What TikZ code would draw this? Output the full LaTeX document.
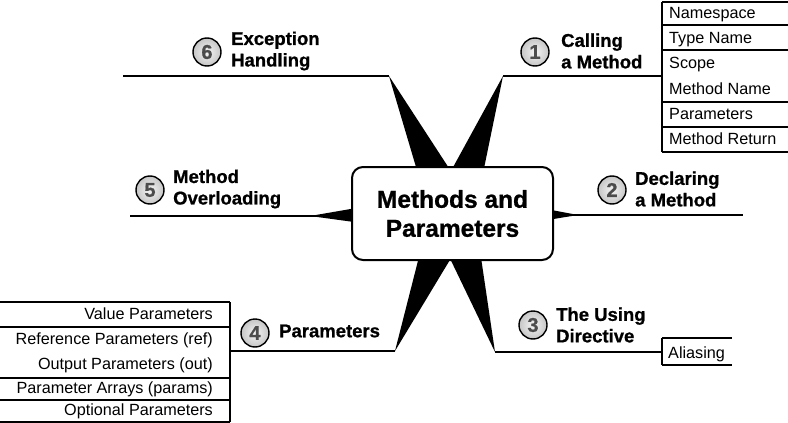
\documentclass[tikz,border=0pt]{standalone}
\usepackage{fontspec}
\setmainfont{Liberation Sans}
\newfontfamily\heavyfont{Liberation Sans Bold}[FakeBold=0.9]
\usetikzlibrary{calc}
\begin{document}
\begin{tikzpicture}[x=1pt,y=-1pt,
  branch/.style={line width=1.9pt},
  tbl/.style={line width=1.7pt},
  num/.style={circle, draw=black, line width=1.4pt, minimum size=28pt, inner sep=0pt,
    inner color=gray!8, outer color=gray!45, text=black!70,
    font=\fontsize{20}{20}\heavyfont},
  lbl/.style={anchor=west, align=left, inner sep=0pt,
    font=\fontsize{18.5}{21.5}\heavyfont},
  lcell/.style={anchor=base west, inner sep=0pt, font=\fontsize{16.2}{18}\selectfont},
  rcell/.style={anchor=base east, inner sep=0pt, font=\fontsize{16.2}{18}\selectfont},
  titlebox/.style={draw=black, line width=2pt, rounded corners=11pt, fill=white,
    minimum width=201pt, minimum height=93pt, align=center, inner sep=0pt,
    font=\fontsize{24.5}{29}\heavyfont}
]
\useasboundingbox (0,0) rectangle (788,423);
% centre and spike tips
\coordinate (c) at (452.5,213.5);
\coordinate (t1) at (503,76);
\coordinate (t2) at (578,215);
\coordinate (t3) at (495,352);
\coordinate (t4) at (395,351);
\coordinate (t5) at (310,216);
\coordinate (t6) at (389,76);
% branch far ends
\coordinate (e1) at (662,76);
\coordinate (e2) at (743,215);
\coordinate (e3) at (662,352);
\coordinate (e4) at (230,351);
\coordinate (e5) at (130,216);
\coordinate (e6) at (123,76);
% spikes
\foreach \t in {t1,t2,t3,t4,t5,t6}
  \fill[black] ($(c)!22pt!90:(\t)$) -- (\t) -- ($(c)!22pt!-90:(\t)$) -- cycle;
% centre box
\node[titlebox] (title) at (c) {Methods and\\Parameters};
% branch lines
\draw[branch] (t1) -- (e1);
\draw[branch] (t6) -- (e6);
\draw[branch] (t3) -- (e3);
\draw[branch] (t4) -- (e4);
\draw[branch] (t2 -| title.east) -- (e2);
\draw[branch] (t5 -| title.west) -- (e5);
% numbers and labels
\node[num] (n1) at (535,52) {1};
\node[lbl] (l1) at (561,51) {Calling\\a Method};
\node[num] (n2) at (612,190) {2};
\node[lbl] (l2) at (635,189) {Declaring\\a Method};
\node[num] (n3) at (533,325) {3};
\node[lbl] (l3) at (556,325) {The Using\\Directive};
\node[num] (n4) at (255,333) {4};
\node[lbl] (l4) at (279,331) {Parameters};
\node[num] (n5) at (150,190) {5};
\node[lbl] (l5) at (173,189) {Method\\Overloading};
\node[num] (n6) at (207,52) {6};
\node[lbl] (l6) at (231,51) {Exception\\Handling};
% right table (calling a method)
\coordinate (rt0) at (662,2);
\coordinate (rt6) at (662,152);
\draw[tbl] (rt0) -- (rt6);
\foreach \y in {2,25,50,102,127,152}
  \draw[tbl] (662,\y) -- (788,\y);
\node[lcell] (r1) at (669,18.5) {Namespace};
\node[lcell] (r2) at (669,43) {Type Name};
\node[lcell] (r3) at (669,68) {Scope};
\node[lcell] (r4) at (669,94) {Method Name};
\node[lcell] (r5) at (669,119) {Parameters};
\node[lcell] (r6) at (669,144) {Method Return};
% aliasing
\coordinate (a0) at (662,338);
\coordinate (a1) at (662,365);
\draw[tbl] (a0) -- (a1);
\draw[tbl] (a0) -- (732,338);
\draw[tbl] (a1) -- (732,365);
\node[lcell] (al) at (668,358) {Aliasing};
% left table (parameters)
\coordinate (lt0) at (230,302);
\coordinate (lt5) at (230,422);
\draw[tbl] (lt0) -- (lt5);
\foreach \y in {302,327,378,400,422}
  \draw[tbl] (0,\y) -- (230,\y);
\node[rcell] (p1) at (213,319) {Value Parameters};
\node[rcell] (p2) at (213,344) {Reference Parameters (ref)};
\node[rcell] (p3) at (213,369.5) {Output Parameters (out)};
\node[rcell] (p4) at (213,393.5) {Parameter Arrays (params)};
\node[rcell] (p5) at (213,415.5) {Optional Parameters};
\end{tikzpicture}
\end{document}
